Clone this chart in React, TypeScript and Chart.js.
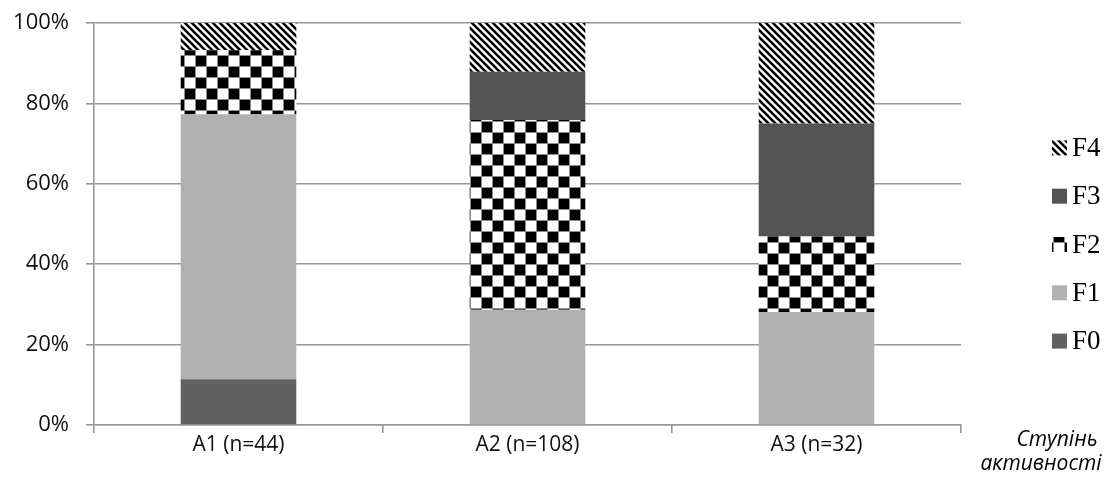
import { useEffect, useRef } from 'react';
import { Chart, registerables } from 'chart.js';

Chart.register(...registerables);

// Activity levels on the x axis
const categories = ['A1 (n=44)', 'A2 (n=108)', 'A3 (n=32)'];

// Share of each fibrosis stage per group, percent
const seriesLabels = ['F0', 'F1', 'F2', 'F3', 'F4'];
const f0Values = [11.4, 0, 0];
const f1Values = [65.9, 28.7, 28.1];
const f2Values = [15.9, 47.2, 18.8];
const f3Values = [0, 12.0, 28.1];
const f4Values = [6.8, 12.1, 25.0];

const yTickMax = 100;
const yTickStep = 20;
const xAxisTitle = ['Ступінь', 'активності'];

const SANS = '"Open Sans", "Noto Sans", sans-serif';
const SERIF = '"Liberation Serif", "DejaVu Serif", serif';
const GRID = '#979797';

function makeStripes(): CanvasPattern | string {
  const p = 7;
  const c = document.createElement('canvas');
  c.width = p;
  c.height = p;
  const g = c.getContext('2d');
  if (!g) return '#000';
  g.fillStyle = '#fff';
  g.fillRect(0, 0, p, p);
  g.strokeStyle = '#000';
  g.lineWidth = 2.6;
  for (const dx of [-p, 0, p]) {
    g.beginPath();
    g.moveTo(dx - 1, -1);
    g.lineTo(dx + p + 1, p + 1);
    g.stroke();
  }
  return g.createPattern(c, 'repeat') ?? '#000';
}

function makeChecker(): CanvasPattern | string {
  const s = 11;
  const c = document.createElement('canvas');
  c.width = s * 2;
  c.height = s * 2;
  const g = c.getContext('2d');
  if (!g) return '#000';
  g.fillStyle = '#fff';
  g.fillRect(0, 0, s * 2, s * 2);
  g.fillStyle = '#000';
  g.fillRect(0, 0, s, s);
  g.fillRect(s, s, s, s);
  g.strokeStyle = '#8c8c8c';
  g.lineWidth = 1;
  g.beginPath();
  g.moveTo(0.5, 0); g.lineTo(0.5, s * 2);
  g.moveTo(s + 0.5, 0); g.lineTo(s + 0.5, s * 2);
  g.moveTo(0, 0.5); g.lineTo(s * 2, 0.5);
  g.moveTo(0, s + 0.5); g.lineTo(s * 2, s + 0.5);
  g.stroke();
  return g.createPattern(c, 'repeat') ?? '#000';
}

// Legend on the right, top item is the last series
const sideLegend = {
  id: 'sideLegend',
  afterDraw(chart: Chart) {
    const { ctx, chartArea } = chart;
    const sets = chart.data.datasets;
    const gap = 48.3;
    const mid = chartArea.top + 221.5;
    const first = mid - (gap * (sets.length - 1)) / 2;
    const boxX = chartArea.right + 91;
    ctx.save();
    ctx.font = `27px ${SERIF}`;
    ctx.textBaseline = 'middle';
    ctx.textAlign = 'left';
    for (let i = 0; i < sets.length; i++) {
      const ds = sets[sets.length - 1 - i] as any;
      const cy = first + i * gap;
      ctx.fillStyle = ds.backgroundColor;
      ctx.fillRect(boxX, cy - 7.5, 15, 15);
      ctx.fillStyle = '#000';
      ctx.fillText(ds.label, boxX + 20, cy + 1);
    }
    ctx.restore();
  },
};

// Italic axis title at the lower right, beyond the end of the x axis
const cornerTitle = {
  id: 'cornerTitle',
  afterDraw(chart: Chart) {
    const { ctx, chartArea } = chart;
    ctx.save();
    ctx.font = `italic 21px ${SANS}`;
    ctx.fillStyle = '#000';
    ctx.textAlign = 'center';
    ctx.textBaseline = 'alphabetic';
    ctx.fillText(xAxisTitle[0], chartArea.right + 96, chartArea.bottom + 21);
    ctx.fillText(xAxisTitle[1], chartArea.right + 80, chartArea.bottom + 45);
    ctx.restore();
  },
};

export default function App() {
  const ref = useRef<HTMLCanvasElement | null>(null);

  useEffect(() => {
    if (!ref.current) return;
    const stripes = makeStripes();
    const checker = makeChecker();
    const fills = ['#616161', '#b1b1b1', checker, '#545454', stripes];
    const values = [f0Values, f1Values, f2Values, f3Values, f4Values];

    const chart = new Chart(ref.current, {
      type: 'bar',
      data: {
        labels: categories,
        datasets: seriesLabels.map((label, i) => ({
          label,
          data: values[i],
          backgroundColor: fills[i] as any,
          borderWidth: 0,
          barPercentage: 0.4,
          categoryPercentage: 1,
        })),
      },
      options: {
        responsive: true,
        maintainAspectRatio: false,
        animation: false,
        layout: { padding: { top: 23, right: 147, left: 0, bottom: 0 } },
        plugins: {
          legend: { display: false },
          tooltip: { enabled: false },
        },
        scales: {
          x: {
            stacked: true,
            afterFit: (s: any) => { s.height = 56; },
            grid: {
              display: true,
              drawOnChartArea: false,
              drawTicks: true,
              tickLength: 8,
              color: GRID,
              lineWidth: 1.6,
            },
            border: { display: true, color: GRID, width: 1.6 },
            ticks: {
              color: '#111',
              padding: -1,
              font: { family: SANS, size: 21 },
            },
          },
          y: {
            stacked: true,
            min: 0,
            max: yTickMax,
            afterFit: (s: any) => {
              s.width = 86;
              s.paddingTop = 0;
              s.paddingBottom = 0;
            },
            grid: {
              color: GRID,
              lineWidth: 1.6,
              drawTicks: true,
              tickLength: 8,
            },
            border: { display: true, color: GRID, width: 1.6 },
            ticks: {
              stepSize: yTickStep,
              color: '#111',
              padding: 17,
              font: { family: SANS, size: 22 },
              callback: (v: any) => `${v}%`,
            },
          },
        },
      },
      plugins: [sideLegend, cornerTitle],
    });
    return () => chart.destroy();
  }, []);

  return (
    <div style={{ position: 'relative', width: '100%', height: 481, marginTop: -8, marginBottom: -8 }}>
      <canvas ref={ref} />
    </div>
  );
}
